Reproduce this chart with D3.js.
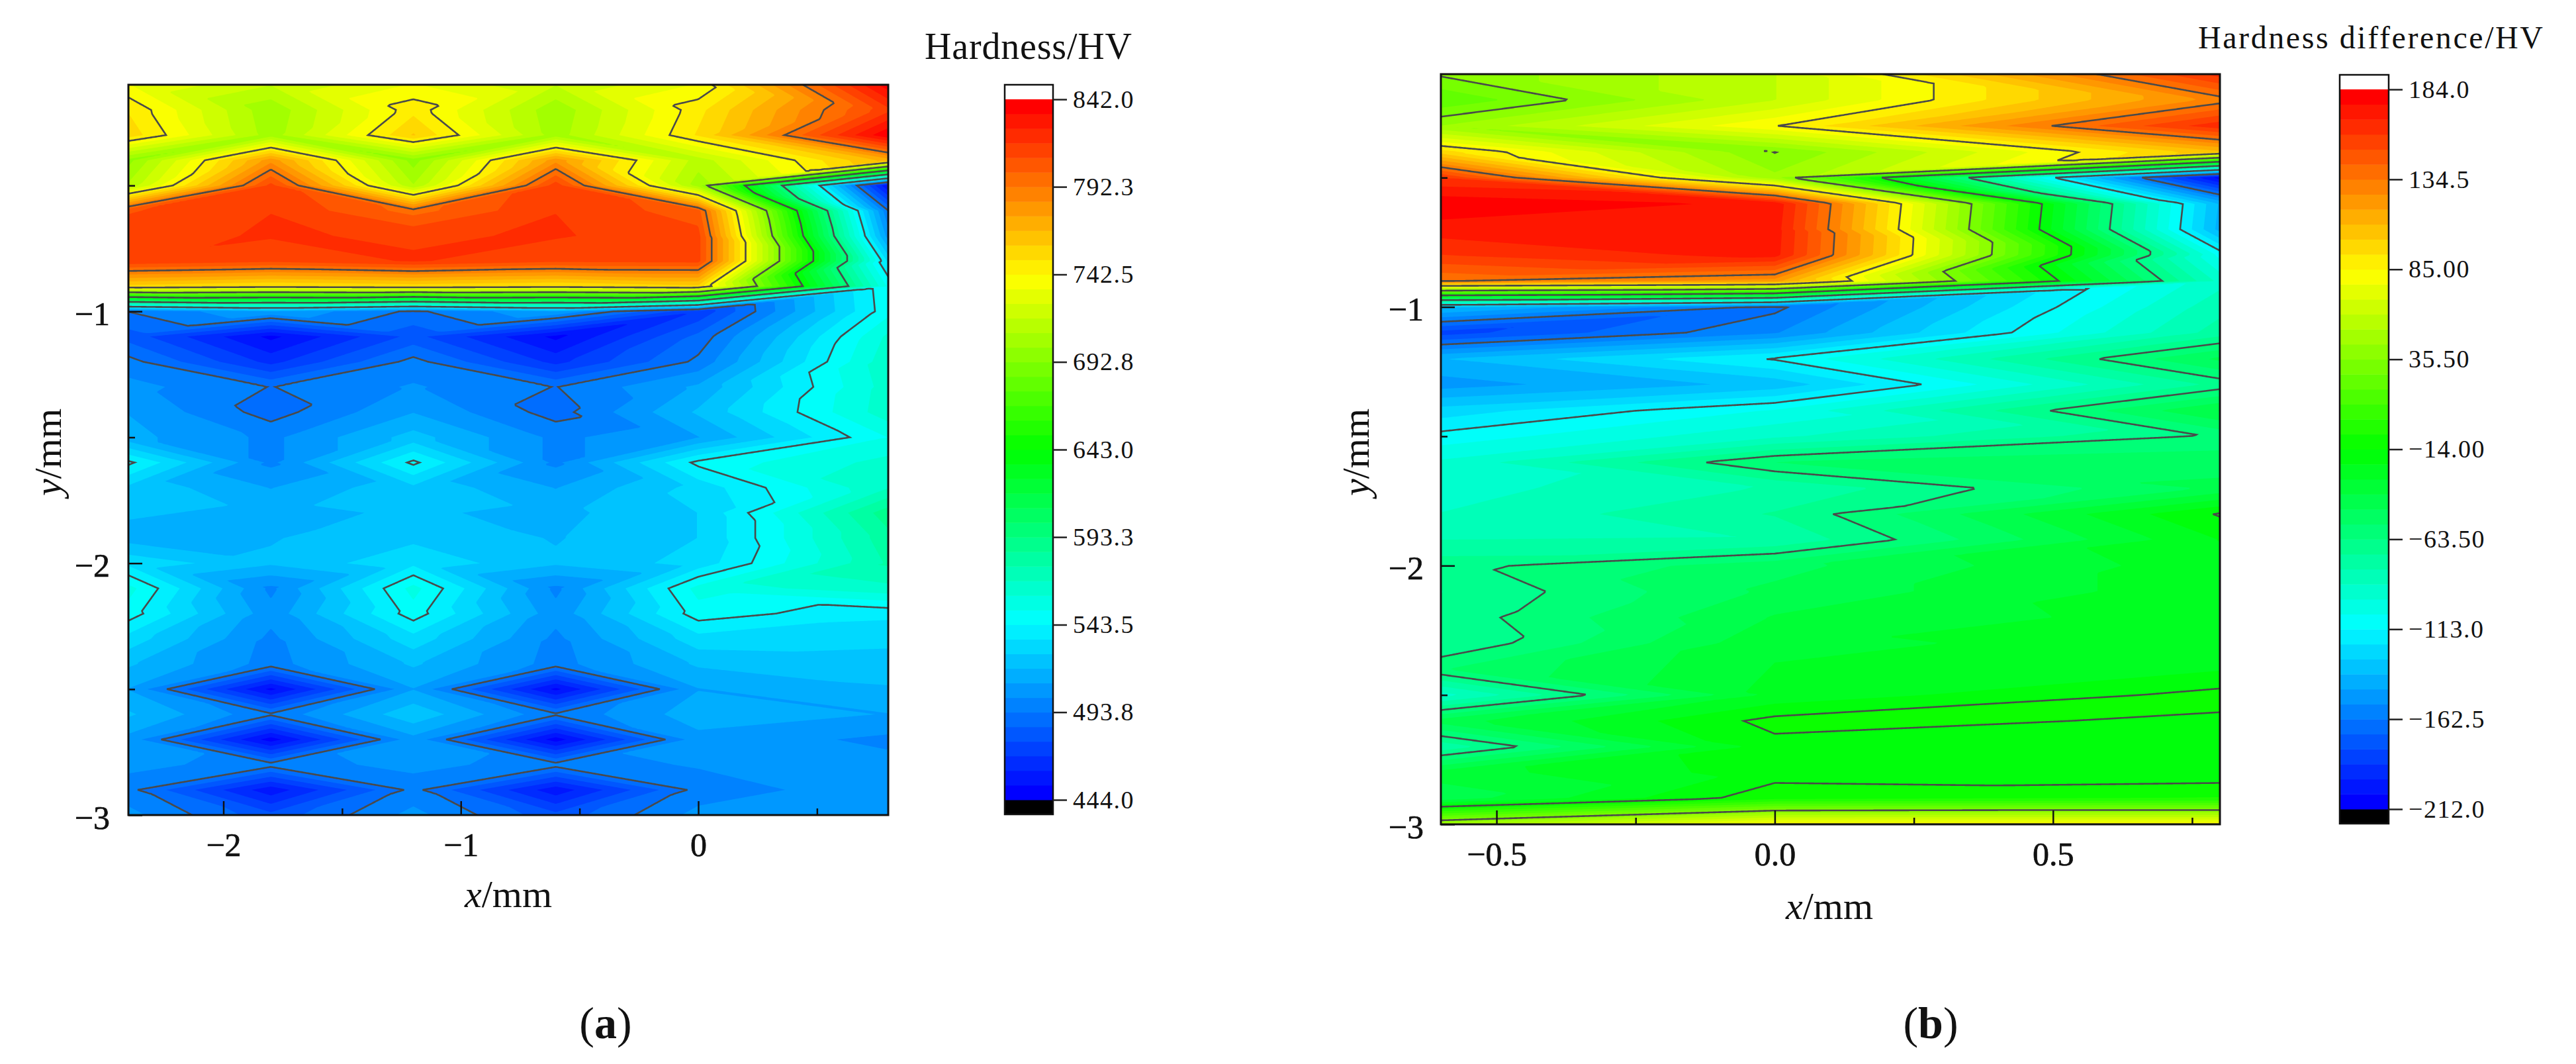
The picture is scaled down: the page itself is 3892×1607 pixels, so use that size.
<!DOCTYPE html>
<html>
<head>
<meta charset="utf-8">
<title>Hardness maps</title>
<script src="https://cdn.jsdelivr.net/npm/d3@7"></script>
<style>
body{margin:0;background:#fff;}
text{font-family:"Liberation Serif",serif;fill:#111;}
</style>
</head>
<body>
<svg id="chart" width="3892" height="1607"></svg>
<script>
//measured rows, same for both maps
var rowsY=[-0.1,-0.2,-0.3,-0.4,-0.5,-0.6,-0.7,-0.8,-0.9,-1.0,-1.1,-1.2,-1.3,-1.4,-1.5,
           -1.6,-1.7,-1.8,-1.9,-2.0,-2.1,-2.2,-2.3,-2.4,-2.5,-2.6,-2.7,-2.8,-2.9,-3.0];

//(a) hardness
var hardnessX=[-2.4,-1.8,-1.2,-0.6,0,0.8];
var hardnessZ=[
    [735,718,735,718,735,839],
    [750,703,748,703,748,815],
    [756,705,760,705,752,841],
    [698,781,697,781,713,771],
    [711,812,710,814,705,452],
    [808,817,797,817,804,494],
    [814,818,816,818,812,506],
    [816,811,818,811,812,533],
    [756,750,754,750,757,550],
    [494,510,492,510,470,549],
    [482,450,480,450,488,562],
    [497,466,497,466,496,566],
    [505,493.5,503,493.5,512,564],
    [510,490,510,490,520,565],
    [513,500,522,500,510,552],
    [545.5,500,545.5,500,546,563],
    [525,510,525,510,530,568],
    [520,516,520,516,527,590],
    [515,518,525,518,527,582],
    [533,520,533,520,530,578],
    [555,500,555,500,555,566],
    [548,505,548,505,548,537],
    [532,500,532,500,532,530],
    [520,498.7,520,498.7,520,522],
    [510,450,510,450,510,518],
    [520,495.5,525,495.5,515,510],
    [507.5,448,507.5,448,507.5,500],
    [505,497.5,505,497.5,503,505],
    [496.5,455,496.5,455,497,508],
    [505,480,505,480,505,505]
];
var hardnessLevels=[444,493.8,543.5,593.3,643,692.8,742.5,792.3,842];
var hardnessLabels=["444.0","493.8","543.5","593.3","643.0","692.8","742.5","792.3","842.0"];

//(b) hardness difference
var diffX=[-0.6,0,0.8];
var diffZ=[
    [37,60,163],
    [20,60,130],
    [44,84.5,165],
    [97,35,108],
    [160,46,-208],
    [182,174,-139],
    [172,172,-141],
    [159,171,-107],
    [135,122,-91],
    [-135,-165,-83],
    [-183,-155,-76],
    [-138,-112,-45],
    [-150,-135,-69],
    [-126,-104,-38],
    [-110,-90,-61.5],
    [-95,-55,-50],
    [-92,-79,-45],
    [-88,-71,-13],
    [-80,-79,-22],
    [-67,-50,-25],
    [-72,-45,-25],
    [-69,-38,-26],
    [-72,-32,-28],
    [-56,-30,-23],
    [-92,-28,-11],
    [-43,-11,-15.5],
    [-78,-17,-17],
    [-35,-18,-20],
    [-44,-8,-5],
    [50,85,85]
];
var diffLevels=[-212,-162.5,-113,-63.5,-14,35.5,85,134.5,184];
var diffLabels=["\u2212212.0","\u2212162.5","\u2212113.0","\u221263.50","\u221214.00","35.50","85.00","134.5","184.0"];

var svg=d3.select("#chart");
var bandsPerLevel=6;
var rainbow=d3.scaleLinear()
    .domain([0,0.25,0.5,0.75,1])
    .range(["#0000ff","#00ffff","#00ff00","#ffff00","#ff0000"]);

//Value at (x,y): each grid cell is split in two triangles along the diagonal
//whose corners are closest in value, the way the contour plot does it
function sampler(xs,ys,z){
    var rows=ys.map(function(d){return -d;});
    return function(x,y){
        var i=Math.min(d3.bisectRight(xs,x)-1,xs.length-2);
        var j=Math.min(d3.bisectRight(rows,-y)-1,rows.length-2);
        i=Math.max(i,0);
        j=Math.max(j,0);
        var u=(x-xs[i])/(xs[i+1]-xs[i]);
        var v=(-y-rows[j])/(rows[j+1]-rows[j]);
        var tl=z[j][i],tr=z[j][i+1],bl=z[j+1][i],br=z[j+1][i+1];
        if(Math.abs(tl-br)<=Math.abs(tr-bl)){
            if(v>=u) return tl+v*(bl-tl)+u*(br-bl);
            return tl+u*(tr-tl)+v*(br-tr);
        }
        if(u+v<=1) return tl+u*(tr-tl)+v*(bl-tl);
        return br+(1-u)*(bl-br)+(1-v)*(tr-br);
    };
}

function drawPanel(p){
    var x=d3.scaleLinear().domain(p.xDomain).range([p.left,p.right]);
    var y=d3.scaleLinear().domain([-0.1,-3]).range([p.top,p.bottom]);
    var g=svg.append("g");
    var clipId="clip"+p.name;

    svg.append("clipPath").attr("id",clipId).append("rect")
        .attr("x",p.left).attr("y",p.top)
        .attr("width",p.right-p.left).attr("height",p.bottom-p.top);

    //fine grid for d3.contours
    var n=Math.round((p.right-p.left)/2),m=Math.round((p.bottom-p.top)/2);
    var value=sampler(p.xs,rowsY,p.z);
    var grid=new Float64Array(n*m);
    var gx=d3.scaleLinear().domain([0.5,n-0.5]).range(p.xDomain);
    var gy=d3.scaleLinear().domain([0.5,m-0.5]).range([-0.1,-3]);
    for(var j=0;j<m;j++){
        for(var i=0;i<n;i++){
            grid[j*n+i]=value(gx(i+0.5),gy(j+0.5));
        }
    }
    var path=d3.geoPath(d3.geoTransform({point:function(a,b){
        this.stream.point(x(gx(a)),y(gy(b)));
    }}));
    var contours=d3.contours().size([n,m]);

    var nBands=(p.levels.length-1)*bandsPerLevel;
    var lo=p.levels[0],hi=p.levels[p.levels.length-1];
    var bands=d3.range(nBands).map(function(k){
        return {from:lo+(hi-lo)*k/nBands,to:lo+(hi-lo)*(k+1)/nBands,color:rainbow(k/(nBands-1))};
    });

    var plot=g.append("g").attr("clip-path","url(#"+clipId+")");
    plot.append("rect")
        .attr("x",p.left).attr("y",p.top)
        .attr("width",p.right-p.left).attr("height",p.bottom-p.top)
        .attr("fill",bands[0].color);
    plot.selectAll("path.band")
        .data(contours.thresholds(bands.slice(1).map(function(b){return b.from;}))(grid))
        .join("path")
        .attr("class","band")
        .attr("d",path)
        .attr("fill",function(d,k){return bands[k+1].color;});
    plot.selectAll("path.line")
        .data(contours.thresholds(p.levels.slice(1,-1))(grid))
        .join("path")
        .attr("class","line")
        .attr("d",path)
        .attr("fill","none")
        .attr("stroke","#4a4a4a")
        .attr("stroke-width",2.6);

    //axes, ticks point inward
    var xMajor=d3.axisBottom(x).tickValues(p.xMajor).tickFormat(d3.format(p.xFormat))
        .tickSize(-21).tickPadding(0);
    var xMinor=d3.axisBottom(x).tickValues(p.xMinor).tickFormat("").tickSize(-10);
    var yMajor=d3.axisLeft(y).tickValues([-1,-2,-3]).tickFormat(d3.format("d"))
        .tickSize(-21).tickPadding(0);
    var yMinor=d3.axisLeft(y).tickValues([-0.5,-1.5,-2.5]).tickFormat("").tickSize(-10);

    var xAxis=g.append("g").attr("transform","translate(0,"+p.bottom+")").call(xMajor);
    g.append("g").attr("transform","translate(0,"+p.bottom+")").call(xMinor);
    var yAxis=g.append("g").attr("transform","translate("+p.left+",0)").call(yMajor);
    g.append("g").attr("transform","translate("+p.left+",0)").call(yMinor);

    g.selectAll(".domain").remove();
    g.selectAll(".tick line").attr("stroke","#111").attr("stroke-width",2.5);
    g.selectAll(".tick text")
        .style("font-family","'Liberation Serif',serif")
        .style("font-size","50px")
        .style("stroke","#111")
        .style("stroke-width","0.7px")
        .attr("dy",null);
    xAxis.selectAll("text").attr("y",62);
    yAxis.selectAll("text").attr("x",p.yLabelRight-p.left).attr("y",20);

    g.append("rect")
        .attr("x",p.left).attr("y",p.top)
        .attr("width",p.right-p.left).attr("height",p.bottom-p.top)
        .attr("fill","none").attr("stroke","#111").attr("stroke-width",3);

    //axis titles
    var xt=g.append("text").attr("x",p.xTitleX).attr("y",p.xTitleY)
        .attr("text-anchor","middle").style("font-size","58px");
    xt.append("tspan").style("font-style","italic").text("x");
    xt.append("tspan").text("/mm");
    var yt=g.append("text")
        .attr("transform","translate("+p.yTitleX+","+p.yTitleY+") rotate(-90)")
        .attr("text-anchor","middle").style("font-size","58px");
    yt.append("tspan").style("font-style","italic").text("y");
    yt.append("tspan").text("/mm");

    //panel letter
    var cap=g.append("text").attr("x",p.capX).attr("y",1568)
        .attr("text-anchor","middle").style("font-size","68px");
    cap.append("tspan").text("(");
    cap.append("tspan").style("font-weight","bold").text(p.name);
    cap.append("tspan").text(")");

    drawColorbar(p,bands);
}

function drawColorbar(p,bands){
    var c=p.bar;
    var lo=p.levels[0],hi=p.levels[p.levels.length-1];
    var s=d3.scaleLinear().domain([lo,hi]).range([c.low,c.high]);
    var g=svg.append("g");
    g.append("rect").attr("x",c.left).attr("y",c.top)
        .attr("width",c.right-c.left).attr("height",c.high-c.top).attr("fill","#fff");
    g.append("rect").attr("x",c.left).attr("y",c.low)
        .attr("width",c.right-c.left).attr("height",c.bottom-c.low).attr("fill","#000");
    g.selectAll("rect.band").data(bands).join("rect")
        .attr("class","band")
        .attr("x",c.left).attr("width",c.right-c.left)
        .attr("y",function(d){return s(d.to);})
        .attr("height",function(d){return s(d.from)-s(d.to)+0.5;})
        .attr("fill",function(d){return d.color;});
    g.append("rect").attr("x",c.left).attr("y",c.top)
        .attr("width",c.right-c.left).attr("height",c.bottom-c.top)
        .attr("fill","none").attr("stroke","#111").attr("stroke-width",2.5);

    var labels=p.labels;
    var axis=d3.axisRight(s).tickValues(p.levels)
        .tickFormat(function(d,k){return labels[k];})
        .tickSize(21).tickPadding(9);
    var ax=g.append("g").attr("transform","translate("+c.right+",0)").call(axis);
    ax.select(".domain").remove();
    ax.selectAll("line").attr("stroke","#222").attr("stroke-width",2.5);
    ax.selectAll("text")
        .style("font-family","'Liberation Serif',serif")
        .style("font-size","38px")
        .style("letter-spacing","1.5px");

    g.append("text")
        .attr("x",c.titleX).attr("y",c.titleY)
        .attr("textLength",c.titleWidth).attr("lengthAdjust","spacing")
        .style("font-size",c.titleSize+"px")
        .text(c.title);
}

drawPanel({
    name:"a",
    xs:hardnessX,z:hardnessZ,levels:hardnessLevels,labels:hardnessLabels,
    xDomain:[-2.4,0.8],
    left:194,right:1342,top:128,bottom:1231,
    xMajor:[-2,-1,0],xMinor:[-1.5,-0.5,0.5],xFormat:"d",
    yLabelRight:166,
    xTitleX:768,xTitleY:1370,yTitleX:92,yTitleY:683,
    capX:915,
    bar:{left:1518,right:1591,top:128,bottom:1230,high:150,low:1208,
         title:"Hardness/HV",titleX:1397,titleY:89,titleWidth:313,titleSize:56}
});

drawPanel({
    name:"b",
    xs:diffX,z:diffZ,levels:diffLevels,labels:diffLabels,
    xDomain:[-0.6,0.8],
    left:2177,right:3354,top:112,bottom:1245,
    xMajor:[-0.5,0,0.5],xMinor:[-0.25,0.25,0.75],xFormat:".1f",
    yLabelRight:2151,
    xTitleX:2764,xTitleY:1388,yTitleX:2068,yTitleY:683,
    capX:2917,
    bar:{left:3535,right:3609,top:113,bottom:1244,high:135,low:1222,
         title:"Hardness difference/HV",titleX:3321,titleY:73,titleWidth:521,titleSize:48}
});
</script>
</body>
</html>
